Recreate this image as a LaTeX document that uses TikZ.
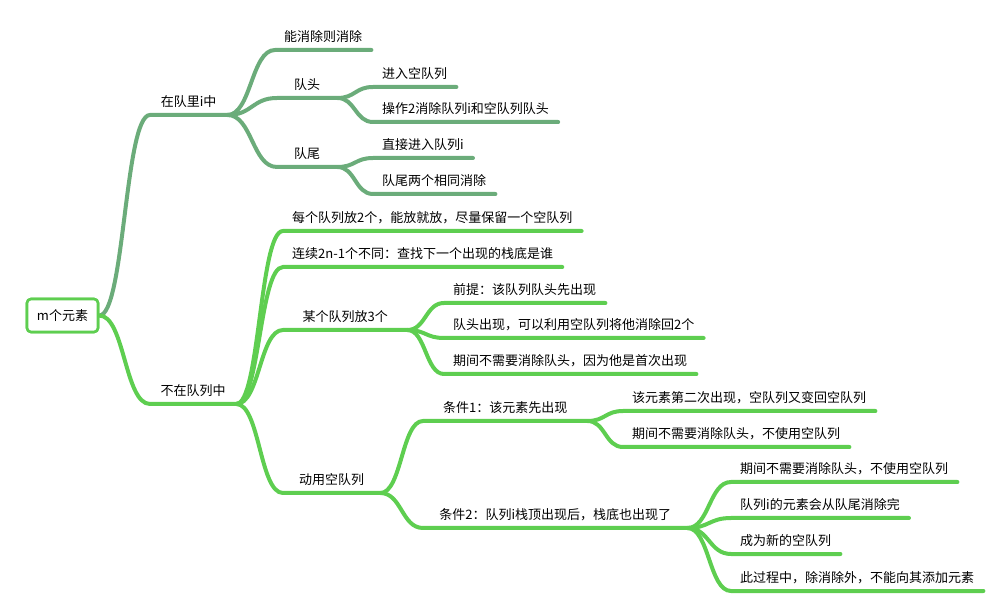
\documentclass[tikz,border=0pt]{standalone}
\usepackage{fontspec}
\setmainfont{Noto Sans CJK SC}
\usepackage{tikz}
\usetikzlibrary{calc}
\definecolor{SageGreen}{RGB}{107,172,122}
\definecolor{LeafGreen}{RGB}{94,206,80}

\newcommand{\twig}[3]{%
	\draw[#1] let \p1=(#2), \p2=(#3.south west) in
		(\p1) .. controls ({0.5*\x1+0.5*\x2},\y1) and ({0.5*\x1+0.5*\x2},\y2) .. (\p2) -- (#3.south east);}

\begin{document}
\begin{tikzpicture}[x=1pt, y=-1pt, font=\fontsize{13pt}{15pt}\selectfont,
	raiz/.style={rectangle, draw=LeafGreen, line width=2.6pt, rounded corners=4pt,
		minimum width=71pt, minimum height=33pt, fill=white},
	tema/.style={anchor=south west, inner xsep=9pt, inner ysep=0pt, text depth=8.5pt,
		text height=11pt, minimum width=60pt},
	arriba/.style={line width=4pt, line cap=round, SageGreen},
	abajo/.style={line width=4pt, line cap=round, LeafGreen}]

	\useasboundingbox (0,0) rectangle (994,601);

	\node[raiz] (root) at (62.5,315.5) {m个元素};

	\node[tema, minimum width=77pt] (inq) at (150,115) {在队里i中};
	\node[tema] (kill) at (275,50) {能消除则消除};
	\node[tema] (head) at (277,98) {队头};
	\node[tema] (head1) at (373,87) {进入空队列};
	\node[tema] (head2) at (373,122) {操作2消除队列i和空队列队头};
	\node[tema] (tail) at (277,167) {队尾};
	\node[tema] (tail1) at (373,158) {直接进入队列i};
	\node[tema] (tail2) at (373,194) {队尾两个相同消除};

	\node[tema, minimum width=86pt] (outq) at (150,404) {不在队列中};
	\node[tema] (two) at (283,231) {每个队列放2个，能放就放，尽量保留一个空队列};
	\node[tema] (diff) at (283,267) {连续2n-1个不同：查找下一个出现的栈底是谁};
	\node[tema, minimum width=124pt] (three) at (283,330) {某个队列放3个};
	\node[tema] (pre) at (444,303) {前提：该队列队头先出现};
	\node[tema] (back) at (444,338) {队头出现，可以利用空队列将他消除回2个};
	\node[tema] (first) at (444,374) {期间不需要消除队头，因为他是首次出现};
	\node[tema, minimum width=97pt] (spare) at (283,493) {动用空队列};
	\node[tema, minimum width=164pt] (conda) at (423,421) {条件1：该元素先出现};
	\node[tema] (conda1) at (623,411) {该元素第二次出现，空队列又变回空队列};
	\node[tema] (conda2) at (623,447) {期间不需要消除队头，不使用空队列};
	\node[tema, minimum width=264pt] (condb) at (423,528) {条件2：队列i栈顶出现后，栈底也出现了};
	\node[tema] (condb1) at (731,482) {期间不需要消除队头，不使用空队列};
	\node[tema] (condb2) at (731,518) {队列i的元素会从队尾消除完};
	\node[tema] (condb3) at (731,554) {成为新的空队列};
	\node[tema] (condb4) at (731,591) {此过程中，除消除外，不能向其添加元素};

	\twig{arriba}{root.east}{inq}
	\twig{arriba}{inq.south east}{kill}
	\twig{arriba}{inq.south east}{head}
	\twig{arriba}{inq.south east}{tail}
	\twig{arriba}{head.south east}{head1}
	\twig{arriba}{head.south east}{head2}
	\twig{arriba}{tail.south east}{tail1}
	\twig{arriba}{tail.south east}{tail2}

	\twig{abajo}{root.east}{outq}
	\twig{abajo}{outq.south east}{two}
	\twig{abajo}{outq.south east}{diff}
	\twig{abajo}{outq.south east}{three}
	\twig{abajo}{outq.south east}{spare}
	\twig{abajo}{three.south east}{pre}
	\twig{abajo}{three.south east}{back}
	\twig{abajo}{three.south east}{first}
	\twig{abajo}{spare.south east}{conda}
	\twig{abajo}{spare.south east}{condb}
	\twig{abajo}{conda.south east}{conda1}
	\twig{abajo}{conda.south east}{conda2}
	\twig{abajo}{condb.south east}{condb1}
	\twig{abajo}{condb.south east}{condb2}
	\twig{abajo}{condb.south east}{condb3}
	\twig{abajo}{condb.south east}{condb4}

	\node[raiz] at (root) {m个元素};
\end{tikzpicture}
\end{document}
